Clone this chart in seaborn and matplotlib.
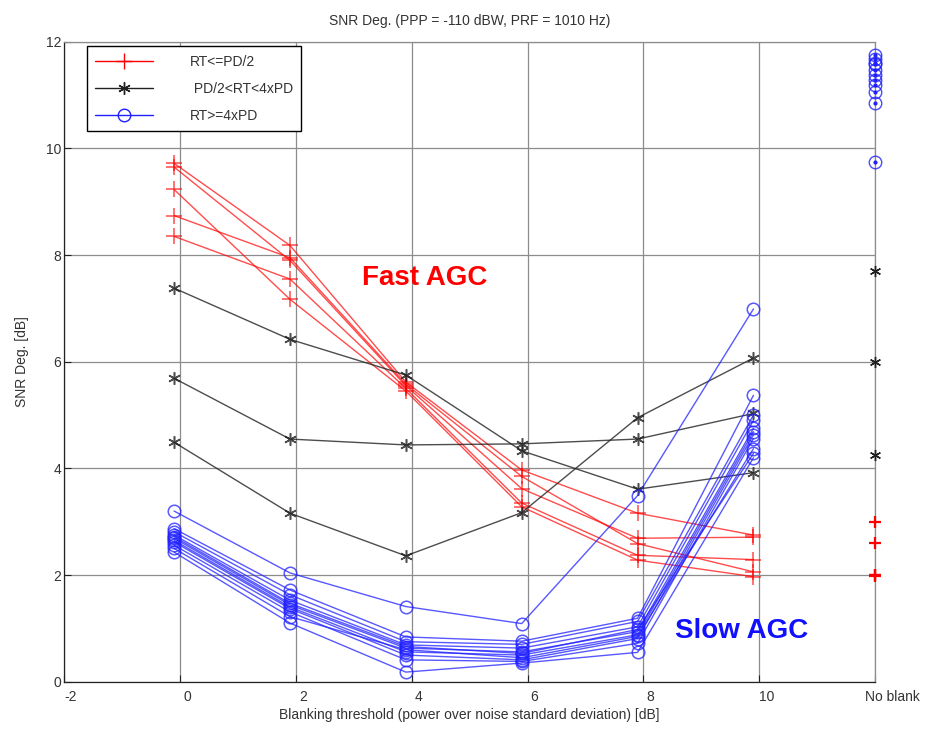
import numpy as np
import pandas as pd
import matplotlib
matplotlib.use("Agg")
import matplotlib.pyplot as plt
import matplotlib.transforms as mtransforms
from matplotlib.lines import Line2D
import seaborn as sns

# Blanking thresholds at which each run was evaluated [dB]
thresholds = [-0.1, 1.9, 3.9, 5.9, 7.9, 9.9]
no_blank_x = 12.0

# RT <= PD/2 (fast AGC)
fast_runs = [
    [9.72, 8.18, 5.62, 3.97, 3.16, 2.75],
    [9.65, 7.90, 5.55, 3.62, 2.69, 2.71],
    [9.23, 7.17, 5.45, 3.28, 2.28, 1.97],
    [8.74, 7.95, 5.58, 3.85, 2.59, 2.06],
    [8.35, 7.55, 5.50, 3.35, 2.37, 2.29],
]
fast_no_blank = [3.00, 2.60, 2.00, 2.00, 1.98]

# PD/2 < RT < 4xPD
mid_runs = [
    [7.38, 6.42, 5.75, 4.33, 3.61, 3.92],
    [5.69, 4.55, 4.44, 4.46, 4.55, 5.03],
    [4.49, 3.16, 2.36, 3.17, 4.95, 6.07],
]
mid_no_blank = [7.70, 5.99, 4.25]

# RT >= 4xPD (slow AGC)
slow_runs = [
    [3.20, 2.04, 1.41, 1.09, 3.49, 6.99],
    [2.87, 1.72, 0.84, 0.76, 1.19, 5.37],
    [2.81, 1.63, 0.75, 0.70, 1.13, 5.00],
    [2.75, 1.53, 0.69, 0.63, 1.03, 4.90],
    [2.72, 1.47, 0.66, 0.53, 0.98, 4.28],
    [2.69, 1.44, 0.63, 0.56, 0.94, 4.75],
    [2.65, 1.40, 0.56, 0.50, 0.88, 4.69],
    [2.62, 1.37, 0.50, 0.41, 0.81, 4.63],
    [2.56, 1.31, 0.41, 0.38, 0.72, 4.56],
    [2.50, 1.22, 0.60, 0.45, 0.85, 4.37],
    [2.43, 1.10, 0.18, 0.35, 0.55, 4.20],
]
slow_no_blank = [11.75, 11.68, 11.59, 11.47, 11.37, 11.28, 11.18, 11.06, 10.85, 9.74, 11.60]

legend_labels = ["RT<=PD/2", " PD/2<RT<4xPD", "RT>=4xPD"]
xtick_values = [-2, 0, 2, 4, 6, 8, 10, 12]
xtick_labels = ["-2", "0", "2", "4", "6", "8", "10", "No blank"]
ytick_values = [0, 2, 4, 6, 8, 10, 12]


def to_long(runs, group):
    rows = []
    for run_id, values in enumerate(runs):
        for x, y in zip(thresholds, values):
            rows.append({"threshold": x, "deg": y, "run": run_id, "group": group})
    return pd.DataFrame(rows)


df = pd.concat([
    to_long(fast_runs, "fast"),
    to_long(mid_runs, "mid"),
    to_long(slow_runs, "slow"),
], ignore_index=True)

sns.set_theme(style="white")
plt.rcParams["font.family"] = ["Liberation Sans", "DejaVu Sans"]

fig = plt.figure(figsize=(9.28, 7.35), dpi=100)
ax = fig.add_axes([0.069, 0.0725, 0.874, 0.8707])

red = "#ff0000"
black = "#202020"
blue = "#2020ff"
asterisk = (6, 2, 0)

styles = {
    "fast": dict(color=red, marker="+", markersize=11, alpha=0.7,
                 markeredgecolor=red),
    "mid": dict(color=black, marker=asterisk, markersize=9, alpha=0.8,
                markeredgecolor=black),
    "slow": dict(color=blue, marker="o", markersize=9, alpha=0.75,
                 markerfacecolor="none", markeredgecolor=blue),
}

for group, st in styles.items():
    sub = df[df["group"] == group]
    sns.lineplot(data=sub, x="threshold", y="deg", units="run", estimator=None,
                 sort=True, linewidth=1.0, markeredgewidth=1.1, legend=False,
                 ax=ax, zorder=3, **st)

# Results with no blanking applied
ax.plot([no_blank_x] * len(fast_no_blank), fast_no_blank, linestyle="none",
        marker="+", markersize=8, markeredgewidth=1.6, color=red, zorder=4, clip_on=False)
ax.plot([no_blank_x] * len(mid_no_blank), mid_no_blank, linestyle="none",
        marker=asterisk, markersize=8, markeredgewidth=1.0, color=black, zorder=4, clip_on=False)
ax.plot([no_blank_x] * len(slow_no_blank), slow_no_blank, linestyle="none",
        marker="o", markersize=9, markerfacecolor="none", markeredgecolor=blue,
        markeredgewidth=1.0, alpha=0.8, zorder=4, clip_on=False)
ax.plot([no_blank_x] * len(slow_no_blank), slow_no_blank, linestyle="none",
        marker=".", markersize=4, color=blue, zorder=4, clip_on=False)

ax.set_xlim(-2, 12)
ax.set_ylim(0, 12)
ax.set_xticks(xtick_values)
ax.set_xticklabels(xtick_labels)
ax.set_yticks(ytick_values)

ax.grid(True, color="#8c8c8c", linewidth=0.9)
ax.set_axisbelow(True)
for side, sp in ax.spines.items():
    sp.set_visible(True)
    sp.set_linewidth(0.9)
    sp.set_color("#222222" if side in ("left", "bottom") else "#8c8c8c")

ax.tick_params(axis="both", direction="in", length=5, width=0.8, color="#222222",
               labelsize=10, labelcolor="#333333", bottom=True, left=True)
ax.tick_params(axis="x", pad=6)
ax.tick_params(axis="y", pad=2)

for i, lab in enumerate(ax.get_xticklabels()):
    dx = 17 if i == len(xtick_labels) - 1 else 7
    lab.set_transform(lab.get_transform() +
                      mtransforms.ScaledTranslation(dx / 100, 0, fig.dpi_scale_trans))

ax.set_xlabel("Blanking threshold (power over noise standard deviation) [dB]",
              fontsize=10, color="#333333", labelpad=3)
ax.set_ylabel("SNR Deg. [dB]", fontsize=10, color="#333333", labelpad=12)
ax.set_title("SNR Deg. (PPP = -110 dBW, PRF = 1010 Hz)", fontsize=10,
             color="#333333", pad=12)

ax.text(3.14, 7.57, "Fast AGC", color=red, fontsize=20, fontweight="bold",
        ha="left", va="center", zorder=5)
ax.text(8.55, 0.95, "Slow AGC", color="#1010ff", fontsize=20, fontweight="bold",
        ha="left", va="center", zorder=5)

handles = [
    Line2D([], [], color=red, marker="+", markersize=11, linewidth=1.0),
    Line2D([], [], color=black, marker=asterisk, markersize=9, linewidth=1.0),
    Line2D([], [], color=blue, marker="o", markersize=9, markerfacecolor="none",
           linewidth=1.0),
]
leg = ax.legend(handles, legend_labels, loc="upper left", bbox_to_anchor=(0.028, 0.993),
                fontsize=10, frameon=True, fancybox=False, framealpha=1,
                edgecolor="black", handlelength=4.2, handletextpad=2.6,
                borderpad=0.6, labelspacing=0.95, borderaxespad=0)
leg.get_frame().set_linewidth(1.0)
for t in leg.get_texts():
    t.set_color("#333333")

fig.savefig("out.png", dpi=100, facecolor="white")
